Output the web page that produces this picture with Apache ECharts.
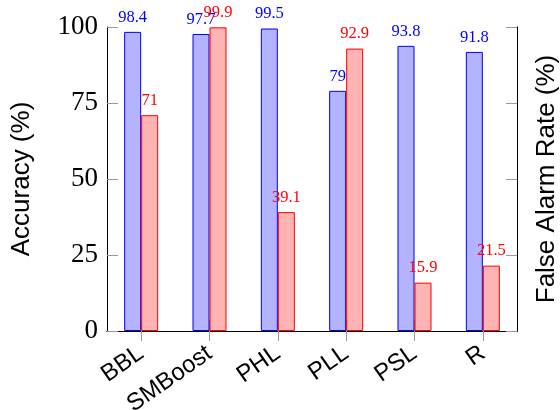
<!DOCTYPE html>
<html>
<head>
<meta charset="utf-8">
<script src="https://cdn.jsdelivr.net/npm/echarts@6/dist/echarts.min.js"></script>
<style>html,body{margin:0;padding:0;background:#fff;}#c{width:560px;height:410px;}</style>
</head>
<body>
<div id="c"></div>
<script>
const categories = ["BBL", "SMBoost", "PHL", "PLL", "PSL", "R"];
const accuracy = [98.4, 97.7, 99.5, 79, 93.8, 91.8];
const falseAlarm = [71, 99.9, 39.1, 92.9, 15.9, 21.5];
const yTicks = [0, 25, 50, 75, 100];

const chart = echarts.init(document.getElementById('c'), null, {renderer: 'canvas'});
const tickStyle = {color: '#999', width: 1};
chart.setOption({
  animation: false,
  grid: {left: 107, right: 43, top: 27, bottom: 79, containLabel: false, outerBoundsMode: 'none'},
  xAxis: [{
    type: 'category', data: categories, position: 'bottom',
    axisLine: {lineStyle: {color: '#000', width: 1}},
    axisTick: {show: true, alignWithLabel: true, length: 10, inside: false, lineStyle: tickStyle},
    axisLabel: {rotate: 35, margin: 20, fontFamily: 'Liberation Sans', fontSize: 24, color: '#000'},
    splitLine: {show: false}
  }, {
    type: 'category', data: categories, position: 'top',
    axisLine: {lineStyle: {color: '#000', width: 1}},
    axisTick: {show: true, alignWithLabel: true, length: 11, inside: false, lineStyle: tickStyle},
    axisLabel: {show: false},
    splitLine: {show: false}
  }],
  yAxis: [{
    type: 'value', min: yTicks[0], max: yTicks[yTicks.length - 1], interval: 25, position: 'left',
    name: 'Accuracy (%)', nameLocation: 'middle', nameGap: 72, nameRotate: 90,
    nameTextStyle: {fontFamily: 'Liberation Sans', fontSize: 26, color: '#000'},
    axisLine: {show: true, lineStyle: {color: '#000', width: 1}},
    axisTick: {show: true, inside: true, length: 11, lineStyle: tickStyle},
    axisLabel: {margin: 9, fontFamily: 'Liberation Serif', fontSize: 27, color: '#000'},
    splitLine: {show: false}
  }, {
    type: 'value', min: yTicks[0], max: yTicks[yTicks.length - 1], interval: 25, position: 'right',
    name: 'False Alarm Rate (%)', nameLocation: 'middle', nameGap: 17, nameRotate: 90,
    nameTextStyle: {fontFamily: 'Liberation Sans', fontSize: 26, color: '#000'},
    axisLine: {show: true, lineStyle: {color: '#000', width: 1}},
    axisTick: {show: true, inside: true, length: 11, lineStyle: tickStyle},
    axisLabel: {show: false},
    splitLine: {show: false}
  }],
  series: [{
    name: 'Accuracy', type: 'bar', data: accuracy, barWidth: 17, barGap: '0%',
    xAxisIndex: 0, yAxisIndex: 0,
    itemStyle: {color: 'rgb(179,179,255)', borderColor: '#0000ff', borderWidth: 1},
    label: {show: true, position: 'top', distance: 6, fontFamily: 'Liberation Serif', fontSize: 16.5, color: '#0000ff'}
  }, {
    name: 'False Alarm Rate', type: 'bar', data: falseAlarm, barWidth: 17, barGap: '0%',
    xAxisIndex: 0, yAxisIndex: 1,
    itemStyle: {color: 'rgb(255,179,179)', borderColor: '#ff0000', borderWidth: 1},
    label: {show: true, position: 'top', distance: 6, fontFamily: 'Liberation Serif', fontSize: 16.5, color: '#ff0000'}
  }]
});
</script>
</body>
</html>
